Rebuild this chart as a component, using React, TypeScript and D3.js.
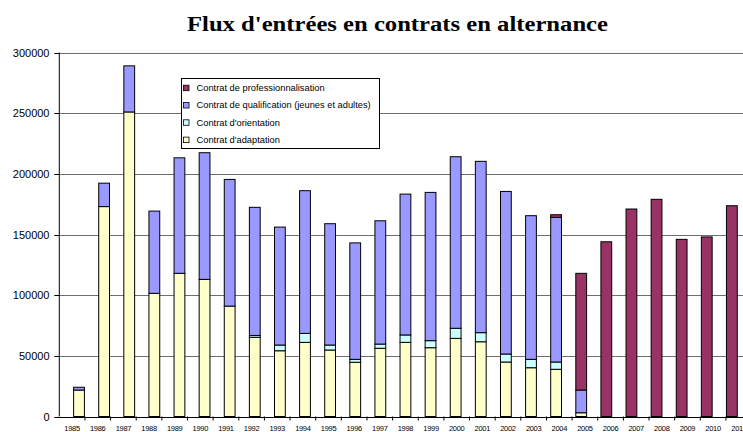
import React from "react";
import * as d3 from "d3";

const years = d3.range(1985, 2012).map(String);
const adaptation = [21800, 173000, 251000, 101500, 118000, 113000, 91000, 65300, 54200, 61100, 54800, 44700, 56200, 61100, 56700, 64400, 61600, 44900, 40200, 38900, 3100, 0, 0, 0, 0, 0, 0];
const orientation = [0, 0, 0, 0, 0, 0, 0, 1500, 4700, 7400, 4100, 2400, 3500, 6100, 5800, 8300, 7500, 6600, 6900, 6000, 0, 0, 0, 0, 0, 0, 0];
const qualification = [2300, 19300, 38000, 67800, 95200, 104400, 104400, 105600, 97200, 117600, 100000, 96000, 101600, 116100, 122200, 141400, 141200, 134000, 118400, 119200, 18700, 0, 0, 0, 0, 0, 0];
const professionnalisation = [0, 0, 0, 0, 0, 0, 0, 0, 0, 0, 0, 0, 0, 0, 0, 0, 0, 0, 0, 2200, 96200, 144000, 171000, 179000, 146000, 148000, 173700];
const yTicks = [0, 50000, 100000, 150000, 200000, 250000, 300000];

const seriesKeys = ["adaptation", "orientation", "qualification", "professionnalisation"];
const seriesLabels: Record<string, string> = {
  professionnalisation: "Contrat de professionnalisation",
  qualification: "Contrat de qualification (jeunes et adultes)",
  orientation: "Contrat d'orientation",
  adaptation: "Contrat d'adaptation",
};
const colors: Record<string, string> = {
  adaptation: "#FFFFCC",
  orientation: "#CCFFFF",
  qualification: "#9999FF",
  professionnalisation: "#993366",
};

export default function App() {
  const W = 743, H = 432;
  const left = 59.3, step = 25.64;
  const x = d3.scaleBand<string>().domain(years).range([left, left + step * years.length]).padding(0.57);
  const y = d3.scaleLinear().domain([0, 300000]).range([416.5, 52.5]);
  const rows = years.map((yr, i) => ({
    year: yr,
    adaptation: adaptation[i],
    orientation: orientation[i],
    qualification: qualification[i],
    professionnalisation: professionnalisation[i],
  }));
  const stacked = d3.stack<any>().keys(seriesKeys)(rows);
  const legendOrder = ["professionnalisation", "qualification", "orientation", "adaptation"];
  const xEnd = left + step * years.length;
  return (
    <svg width={W} height={H} style={{ position: "absolute", left: 0, top: 0, background: "#fff" }} fontFamily="'Liberation Sans', Arial, sans-serif">
      <rect width={W} height={H} fill="#fff" />
      <text x={187} y={31} fontFamily="'Liberation Serif', 'Times New Roman', serif" fontWeight="bold" fontSize={20.5}
        textLength={421} lengthAdjust="spacingAndGlyphs">
        Flux d'entrées en contrats en alternance
      </text>
      {yTicks.filter(t => t > 0).map(t => (
        <line key={t} x1={left} x2={xEnd} y1={Math.round(y(t)) + 0.5} y2={Math.round(y(t)) + 0.5} stroke="#6e6e6e" strokeWidth={1} />
      ))}
      {yTicks.map(t => (
        <g key={"yt" + t}>
          <line x1={left - 5} x2={left} y1={Math.round(y(t)) + 0.5} y2={Math.round(y(t)) + 0.5} stroke="#000" />
          <text x={49.5} y={y(t) + 4} textAnchor="end" fontSize={11}>{t}</text>
        </g>
      ))}
      {stacked.map(s => (
        <g key={s.key}>
          {s.map((d, i) => d[1] - d[0] > 0 ? (
            <rect key={i} x={x(years[i])!} width={x.bandwidth()} y={y(d[1])} height={y(d[0]) - y(d[1])}
              fill={colors[s.key]} stroke="#000" strokeWidth={1} />
          ) : null)}
        </g>
      ))}
      <line x1={left} x2={left} y1={y(300000)} y2={y(0)} stroke="#000" />
      <line x1={left} x2={xEnd} y1={Math.round(y(0)) + 0.5} y2={Math.round(y(0)) + 0.5} stroke="#000" />
      {years.map((yr, i) => (
        <line key={"xt" + yr} x1={left + step * (i + 1)} x2={left + step * (i + 1)} y1={y(0)} y2={y(0) + 4} stroke="#000" />
      ))}
      {years.map((yr, i) => (
        <text key={"xl" + yr} x={left + step * (i + 0.5)} y={430.5} textAnchor="middle" fontSize={7.5} letterSpacing={-0.3}>{yr}</text>
      ))}
      <g>
        <rect x={181.5} y={78.5} width={198} height={70} fill="#fff" stroke="#000" strokeWidth={1} />
        {legendOrder.map((k, i) => (
          <g key={k} transform={`translate(0, ${87.7 + i * 17.3})`}>
            <rect x={183.5} y={-2.5} width={5.5} height={5.5} fill={colors[k]} stroke="#000" strokeWidth={0.8} />
            <text x={196.5} y={3.2} fontSize={9.3}>{seriesLabels[k]}</text>
          </g>
        ))}
      </g>
    </svg>
  );
}
